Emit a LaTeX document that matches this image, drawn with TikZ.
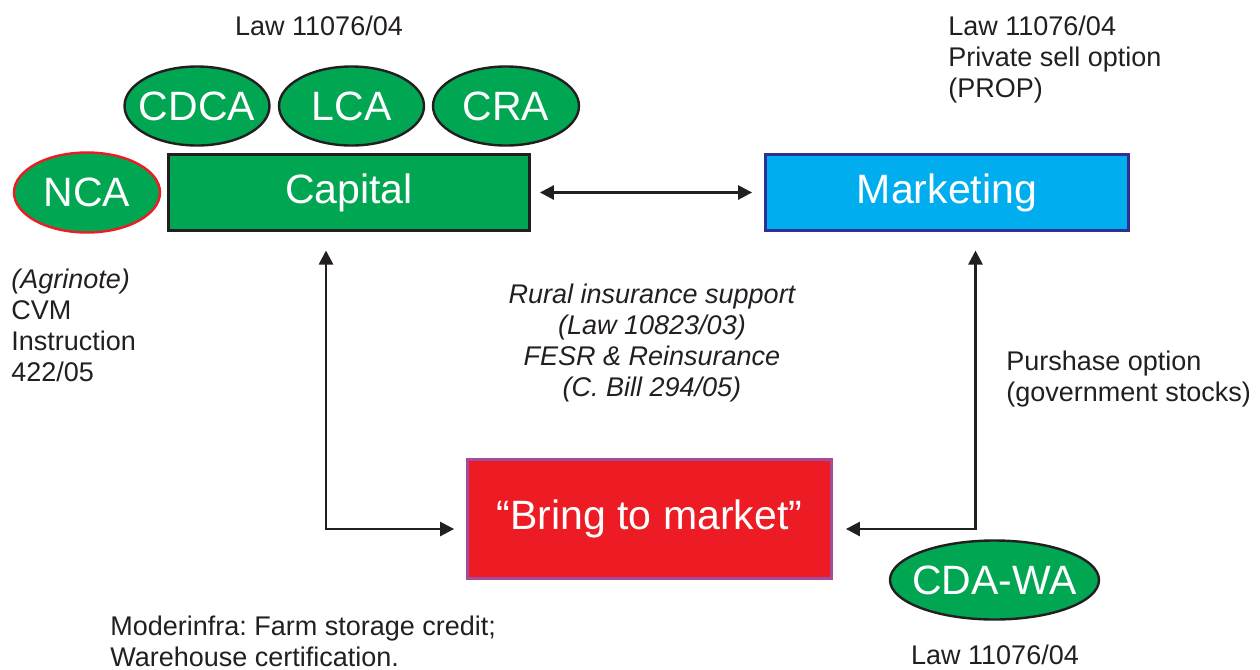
\documentclass[tikz,border=0pt]{standalone}
\usepackage{fontspec}
\setmainfont{Liberation Sans}
\usetikzlibrary{arrows.meta,shapes.geometric}
\definecolor{grn}{RGB}{0,166,81}
\definecolor{sky}{RGB}{0,174,239}
\definecolor{rd}{RGB}{237,28,36}
\definecolor{navy}{RGB}{46,49,146}
\definecolor{purp}{RGB}{165,75,155}
\definecolor{ink}{RGB}{35,31,32}
\frenchspacing
\begin{document}
\begin{tikzpicture}[x=0.5pt,y=-0.5pt,
  bigtxt/.style={text=white,font=\fontsize{20.5}{24}\selectfont},
  box/.style={rectangle,line width=1.4pt,inner sep=0pt,bigtxt},
  oval/.style={ellipse,draw=ink,fill=grn,line width=1.2pt,inner xsep=-10pt,inner ysep=0pt,bigtxt},
  lbl/.style={inner sep=0pt,text=ink,font=\fontsize{13.5}{15.5}\selectfont},
  conn/.style={draw=ink,line width=1.3pt,{Triangle[length=7pt,width=7pt]}-{Triangle[length=7pt,width=7pt]}}
]
\useasboundingbox (0,0) rectangle (1260,670);

% boxes
\node[box,fill=grn,draw=ink,minimum width=180.5pt,minimum height=38pt] (capital) at (349,192.5) {Capital};
\node[box,fill=sky,draw=navy,minimum width=181.5pt,minimum height=38pt] (marketing) at (947,192.5) {Marketing};
\node[box,fill=rd,draw=purp,minimum width=182pt,minimum height=59.5pt] (bring) at (649.5,519) {“Bring to market”};

% ovals
\node[oval,draw=rd,minimum width=73pt,minimum height=40pt] (nca) at (87,192.5) {NCA};
\node[oval,minimum width=72.5pt,minimum height=39.5pt] (cdca) at (197,106) {CDCA};
\node[oval,minimum width=72.5pt,minimum height=39.5pt] (lca) at (351.5,106) {LCA};
\node[oval,minimum width=73pt,minimum height=39.5pt] (cra) at (506,106) {CRA};
\node[oval,minimum width=104.5pt,minimum height=39.5pt] (cdawa) at (994.5,580) {CDA-WA};

% connectors
\coordinate (k1) at (326,529);
\coordinate (k2) at (975.5,529);
\draw[conn,shorten <=4.5pt,shorten >=6pt] (capital.east) -- (marketing.west);
\draw[conn,shorten <=9.3pt,shorten >=6pt] (capital.south -| k1) |- (bring.west |- k1);
\draw[conn,shorten <=9.3pt,shorten >=6.5pt] (marketing.south -| k2) |- (bring.east |- k2);

% labels
\node[lbl,anchor=north] (lawtop) at (319,16) {Law 11076/04};
\node[lbl,anchor=north west,align=left] (prop) at (948,16) {Law 11076/04\\Private sell option\\(PROP)};
\node[lbl,anchor=north west,align=left] (agri) at (11,269) {\itshape(Agrinote)\\CVM\\Instruction\\422/05};
\node[lbl,anchor=north,align=center,font=\fontsize{13.5}{15.5}\selectfont\itshape] (rural) at (652,284) {Rural insurance support\\(Law 10823/03)\\FESR \& Reinsurance\\(C. Bill 294/05)};
\node[lbl,anchor=north west,align=left] (purch) at (1006,351) {Purshase option\\(government stocks)};
\node[lbl,anchor=north west,align=left] (moder) at (110,616) {Moderinfra: Farm storage credit;\\Warehouse certification.};
\node[lbl,anchor=north] (lawbot) at (995,645) {Law 11076/04};
\end{tikzpicture}
\end{document}
